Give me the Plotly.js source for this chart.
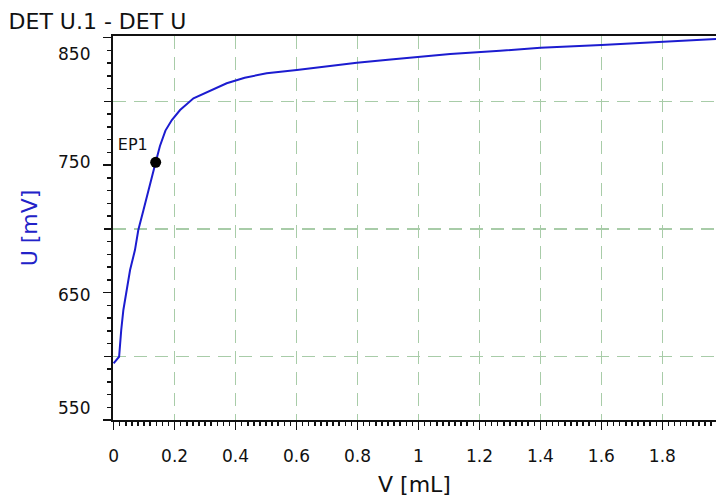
<!DOCTYPE html>
<html>
<head>
<meta charset="utf-8">
<script src="https://cdn.plot.ly/plotly-3.0.1.min.js"></script>
<style>html,body{margin:0;padding:0;background:#fff;}#chart{width:716px;height:497px;}</style>
</head>
<body>
<div id="chart"></div>
<script>
// Volume (mL) and potential (mV)
const volume = [0.000, 0.018, 0.025, 0.032, 0.043, 0.054, 0.070, 0.081, 0.098, 0.114, 0.138, 0.152, 0.170, 0.191, 0.218, 0.262, 0.317, 0.371, 0.430, 0.502, 0.601, 0.700, 0.798, 0.900, 0.994, 1.104, 1.268, 1.400, 1.600, 1.800, 1.980];
const potential = [594.5, 599.6, 620.6, 636.3, 652.0, 667.6, 683.3, 699.0, 714.7, 730.4, 752.1, 764.9, 777.0, 785.3, 793.1, 802.3, 808.5, 814.1, 818.5, 821.9, 824.5, 827.5, 830.2, 832.5, 834.5, 837.1, 839.6, 842.0, 844.1, 846.7, 848.9];
// End point
const epLabel = ["EP1"];
const epVolume = [0.138];
const epPotential = [752.1];
// Tick labels
const xTickVals = [0, 0.2, 0.4, 0.6, 0.8, 1, 1.2, 1.4, 1.6, 1.8];
const xTickText = ["0", "0.2", "0.4", "0.6", "0.8", "1", "1.2", "1.4", "1.6", "1.8"];
const yTickVals = [550, 650, 750, 850];
const yTickText = ["550", "650", "750", "850"];
const yGridVals = [600, 700, 800];

const FONT = "DejaVu Sans, Verdana, sans-serif";
const GRID = "rgb(168,204,168)";
const yRange = [550, 851.2];
// label offsets (px, up positive) so end labels sit inside the frame as in the reference
const yLabelShift = [12, -2, 3, -16];

const traces = [
  {x: volume, y: potential, type: "scatter", mode: "lines",
   line: {color: "#1c1cd0", width: 2}, hoverinfo: "skip", showlegend: false},
  {x: epVolume, y: epPotential, text: epLabel, type: "scatter", mode: "markers+text",
   textposition: "top left", textfont: {family: FONT, size: 16, color: "#111"},
   marker: {color: "#000", size: 11}, yaxis: "y2", hoverinfo: "skip", showlegend: false}
];

const annotations = yTickVals.map((v, i) => ({
  x: 0, xref: "paper", y: v, yref: "y", text: yTickText[i], showarrow: false,
  xanchor: "right", yanchor: "middle", xshift: -21, yshift: yLabelShift[i],
  font: {family: FONT, size: 17, color: "#111"}
}));

const layout = {
  width: 716, height: 497,
  margin: {l: 113, r: 0, t: 36, b: 77},
  paper_bgcolor: "#fff", plot_bgcolor: "#fff",
  font: {family: FONT, size: 17, color: "#111"},
  title: {text: "DET U.1 - DET U", font: {family: FONT, size: 22, color: "#111"},
          xref: "container", yref: "container", x: 0.012, xanchor: "left", y: 0.958, yanchor: "middle"},
  annotations: annotations,
  xaxis: {
    range: [-0.002, 1.976], tickvals: xTickVals, ticktext: xTickText,
    ticks: "outside", ticklen: 8, tickwidth: 1.5, tickcolor: "#111",
    showline: true, linecolor: "#111", linewidth: 2, mirror: true,
    showgrid: true, gridcolor: GRID, gridwidth: 1.5, griddash: "13px,8px",
    zeroline: false, ticklabelstandoff: 12,
    tickfont: {family: FONT, size: 17, color: "#111"},
    minor: {dtick: 0.02, tick0: 0, ticks: "outside", ticklen: 4, tickcolor: "#111", showgrid: false},
    title: {text: "V [mL]", font: {family: FONT, size: 22, color: "#111"}, standoff: 14}
  },
  yaxis: {
    range: yRange, tickvals: yTickVals, showticklabels: false,
    ticks: "outside", ticklen: 8, tickwidth: 1.5, tickcolor: "#111",
    showline: true, linecolor: "#111", linewidth: 2,
    showgrid: false, zeroline: false,
    minor: {dtick: 10, tick0: 550, ticks: "outside", ticklen: 4, tickcolor: "#111", showgrid: false},
    title: {text: "U [mV]", font: {family: FONT, size: 22, color: "#2222c8"}, standoff: 59}
  },
  yaxis2: {
    range: yRange, overlaying: "y", side: "left", tickvals: yGridVals,
    ticks: "outside", ticklen: 8, tickwidth: 1.5, tickcolor: "#111",
    showticklabels: false, showline: false,
    showgrid: true, gridcolor: GRID, gridwidth: 1.5, griddash: "13px,8px", zeroline: false
  }
};

Plotly.newPlot("chart", traces, layout, {staticPlot: true, displayModeBar: false});
</script>
</body>
</html>
